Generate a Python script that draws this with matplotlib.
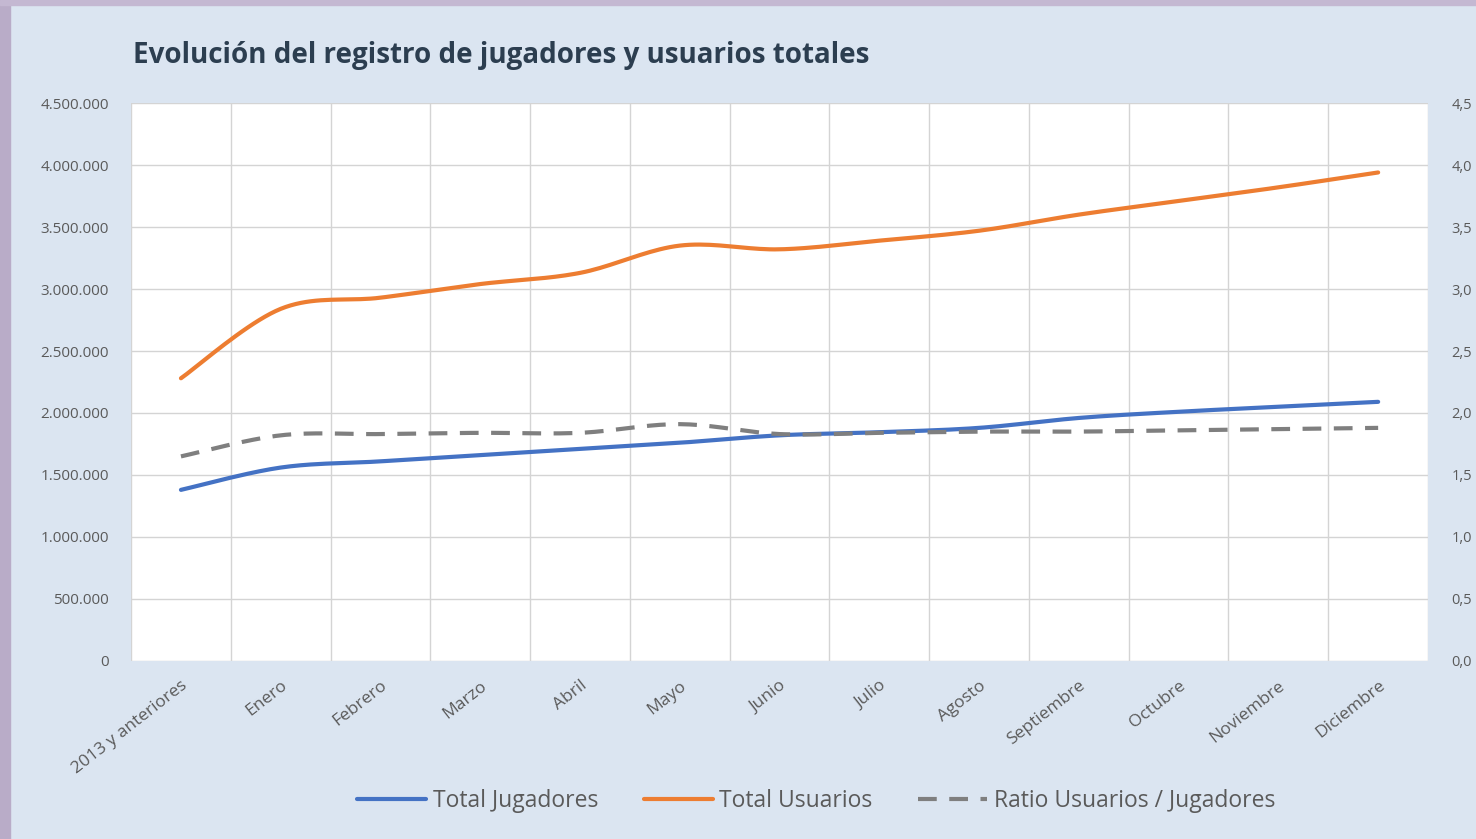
import numpy as np
import matplotlib
matplotlib.use("Agg")
import matplotlib.pyplot as plt
from matplotlib.ticker import FixedLocator

plt.rcParams['font.family'] = ['Open Sans', 'DejaVu Sans']

categories = ["2013 y anteriores", "Enero", "Febrero", "Marzo", "Abril", "Mayo",
              "Junio", "Julio", "Agosto", "Septiembre", "Octubre", "Noviembre", "Diciembre"]
total_jugadores = [1380000, 1560000, 1610000, 1660000, 1710000, 1760000, 1820000,
                   1845000, 1880000, 1960000, 2010000, 2050000, 2090000]
total_usuarios = [2280000, 2840000, 2930000, 3040000, 3130000, 3350000, 3320000,
                  3390000, 3470000, 3600000, 3710000, 3820000, 3940000]
ratio = [1.65, 1.82, 1.83, 1.84, 1.84, 1.91, 1.83, 1.84, 1.85, 1.85, 1.86, 1.87, 1.88]
left_ticks = [0, 500000, 1000000, 1500000, 2000000, 2500000, 3000000, 3500000, 4000000, 4500000]
right_ticks = [0.0, 0.5, 1.0, 1.5, 2.0, 2.5, 3.0, 3.5, 4.0, 4.5]


def smooth(x, y, n=20):
    # Catmull-Rom style smoothing through the data points (like Excel smoothed lines)
    x = np.asarray(x, float); y = np.asarray(y, float)
    xs, ys = [], []
    for i in range(len(x) - 1):
        p0 = (x[i-1], y[i-1]) if i > 0 else (x[i], y[i])
        p1 = (x[i], y[i]); p2 = (x[i+1], y[i+1])
        p3 = (x[i+2], y[i+2]) if i + 2 < len(x) else (x[i+1], y[i+1])
        t = np.linspace(0, 1, n, endpoint=False)
        for k in range(2):
            P0, P1, P2, P3 = p0[k], p1[k], p2[k], p3[k]
            c1 = P1 + (P2 - P0) / 6.0
            c2 = P2 - (P3 - P1) / 6.0
            v = ((1-t)**3)*P1 + 3*((1-t)**2)*t*c1 + 3*(1-t)*t**2*c2 + t**3*P2
            (xs if k == 0 else ys).append(v)
    xs = np.concatenate(xs + [[x[-1]]]); ys = np.concatenate(ys + [[y[-1]]])
    return xs, ys


fig = plt.figure(figsize=(14.76, 8.39), dpi=100)
fig.patch.set_facecolor('#dbe5f1')
# outer frame strips
fig.add_artist(plt.Rectangle((0, 0), 0.007, 1, transform=fig.transFigure, color='#b9acc8', zorder=0))
fig.add_artist(plt.Rectangle((0, 0.994), 1, 0.006, transform=fig.transFigure, color='#c4b8d2', zorder=0))

ax = fig.add_axes([0.0888, 0.2122, 0.8787, 0.665])
ax.set_facecolor('white')
ax2 = ax.twinx()

x = np.arange(len(categories))
blue = '#4472c4'
orange = '#ed7d31'
gray = '#7f7f7f'

bx, by = smooth(x, total_jugadores)
ox, oy = smooth(x, total_usuarios)
rx, ry = smooth(x, ratio)
l1, = ax.plot(bx, by, color=blue, lw=3, solid_capstyle='round', label='Total Jugadores', zorder=3)
l2, = ax.plot(ox, oy, color=orange, lw=3, solid_capstyle='round', label='Total Usuarios', zorder=3)
l3, = ax2.plot(rx, ry, color=gray, lw=3, dashes=(4.5, 3), label='Ratio Usuarios / Jugadores', zorder=3)

ax.set_xlim(-0.5, len(categories) - 0.5)
ax.set_ylim(0, 4500000)
ax2.set_ylim(0, 4.5)

ax.yaxis.set_major_locator(FixedLocator(left_ticks))
ax.set_yticklabels([f"{v:,}".replace(",", ".") for v in left_ticks])
ax2.yaxis.set_major_locator(FixedLocator(right_ticks))
ax2.set_yticklabels([f"{v:.1f}".replace(".", ",") for v in right_ticks])

ax.set_xticks(x)
ax.set_xticklabels(categories, rotation=38, ha='right', rotation_mode='anchor')
ax.set_xticks(np.arange(len(categories) + 1) - 0.5, minor=True)

ax.grid(False)
ax.grid(True, which='minor', axis='x', color='#d4d4d4', lw=1)
ax.grid(True, which='major', axis='y', color='#d4d4d4', lw=1)
ax.set_axisbelow(True)

for a in (ax, ax2):
    for s in a.spines.values():
        s.set_visible(False)

lab_color = '#5a5a5a'
ax.tick_params(axis='y', which='both', length=0, pad=16, labelsize=11, labelcolor=lab_color)
ax2.tick_params(axis='y', which='both', length=0, pad=17, labelsize=10.5, labelcolor=lab_color)
ax.tick_params(axis='x', which='both', length=0, pad=12, labelsize=12.5, labelcolor=lab_color)

fig.text(133 / 1476, 1 - 55 / 839, "Evolución del registro de jugadores y usuarios totales",
         fontsize=20, fontweight='bold', color='#2c3e50', ha='left', va='center')

leg = fig.legend(handles=[l1, l2, l3], loc='center', bbox_to_anchor=(0.553, 1 - 801 / 839),
                 ncol=3, frameon=False, fontsize=16.5, handlelength=3.0, handletextpad=0.3,
                 columnspacing=2.0, labelcolor=lab_color)

fig.savefig('out.png', dpi=100, facecolor=fig.get_facecolor())
